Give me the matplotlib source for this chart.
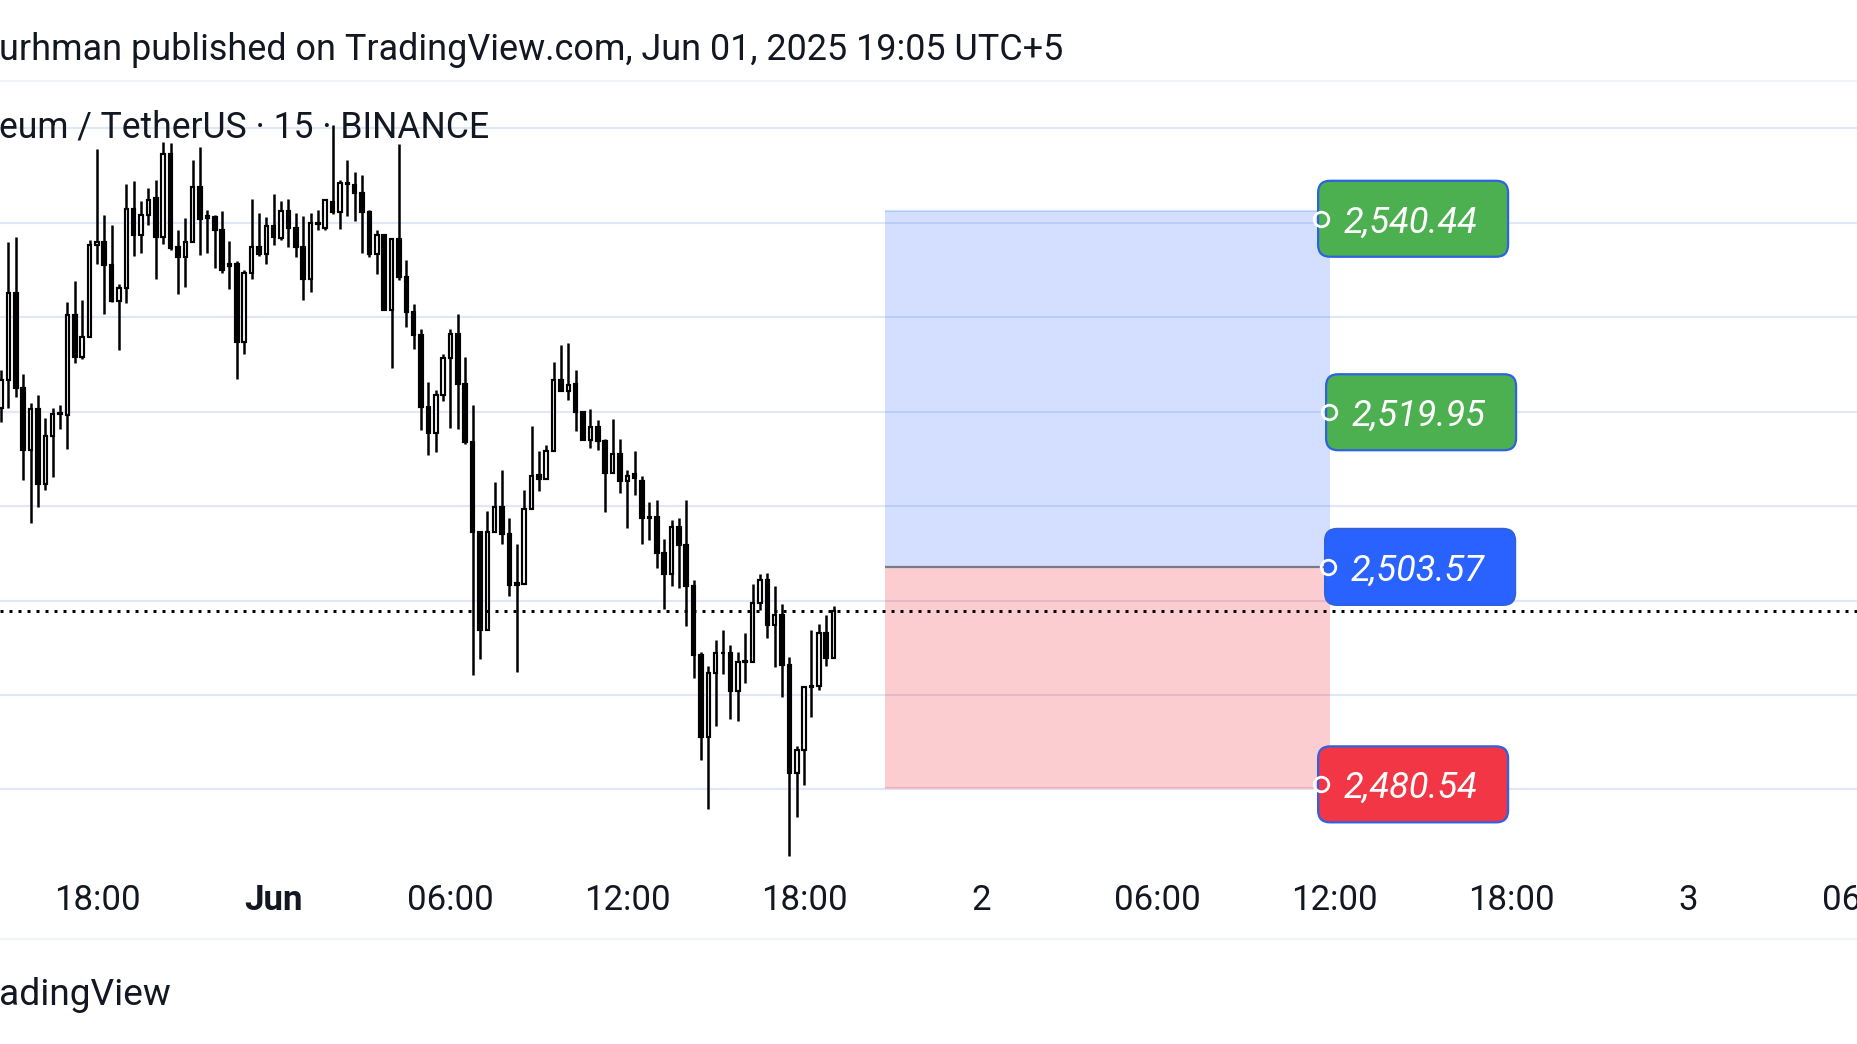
import numpy as np
import pandas as pd
import matplotlib
matplotlib.use("Agg")
import matplotlib.pyplot as plt
import matplotlib.transforms as mtransforms
from matplotlib.patches import FancyBboxPatch
from matplotlib.lines import Line2D

plt.rcParams['font.family'] = ['Roboto', 'DejaVu Sans']

W, H, DPI = 1858, 1044, 100
TEXT = '#131722'

# ETH/USDT 15m candles, May 31 14:45 -> Jun 01 19:00
times = pd.date_range("2025-05-31 14:45", "2025-06-01 19:00", freq="15min")
opens = [2520.4, 2523.4, 2532.6, 2522.5, 2515.9, 2520.3, 2512.3, 2517.4, 2519.8, 2519.7,
         2530.3, 2525.8, 2527.9, 2537.7, 2538.0, 2535.5, 2531.7, 2533.1, 2541.5, 2538.7,
         2540.8, 2542.6, 2538.5, 2547.3, 2537.4, 2536.4, 2538.0, 2543.8, 2540.7, 2540.6,
         2539.2, 2535.6, 2535.6, 2527.4, 2534.7, 2537.5, 2536.7, 2539.7, 2538.4, 2541.3,
         2539.5, 2537.4, 2534.1, 2539.9, 2539.5, 2542.2, 2541.2, 2544.2, 2544.0, 2543.2,
         2541.2, 2536.7, 2538.7, 2530.8, 2538.3, 2534.3, 2530.6, 2528.1, 2520.5, 2517.8,
         2521.8, 2525.7, 2528.2, 2522.9, 2516.8, 2507.3, 2496.9, 2507.3, 2509.9, 2507.1,
         2501.7, 2501.8, 2509.7, 2513.3, 2512.9, 2515.8, 2523.4, 2522.2, 2522.9, 2520.0,
         2517.0, 2518.4, 2516.9, 2513.5, 2515.5, 2512.7, 2513.4, 2512.7, 2508.7, 2508.9,
         2505.0, 2502.8, 2507.8, 2505.9, 2501.5, 2494.2, 2485.6, 2492.3, 2494.4, 2494.5,
         2490.4, 2493.5, 2493.5, 2499.7, 2502.2, 2497.4, 2498.5, 2493.2, 2481.7, 2484.2,
         2490.8, 2491.0, 2496.6, 2493.9]
highs = [2524.4, 2538.0, 2538.5, 2524.0, 2520.9, 2521.8, 2519.3, 2520.4, 2520.7, 2531.6,
         2533.8, 2531.8, 2538.2, 2547.8, 2540.8, 2539.8, 2533.5, 2544.1, 2544.4, 2542.3,
         2543.7, 2544.5, 2548.6, 2548.5, 2539.2, 2540.5, 2546.7, 2548.0, 2541.4, 2540.8,
         2541.3, 2538.1, 2536.0, 2535.0, 2542.5, 2541.1, 2540.6, 2543.1, 2542.3, 2542.5,
         2541.0, 2540.7, 2541.0, 2541.4, 2542.5, 2550.4, 2544.5, 2546.7, 2545.4, 2545.1,
         2541.4, 2539.2, 2538.8, 2538.4, 2548.4, 2536.1, 2531.4, 2528.8, 2523.2, 2522.3,
         2526.1, 2528.8, 2530.4, 2525.8, 2520.7, 2507.3, 2509.5, 2512.6, 2513.8, 2508.7,
         2506.0, 2511.7, 2518.5, 2515.8, 2516.5, 2525.3, 2527.1, 2527.3, 2524.4, 2520.0,
         2520.3, 2519.1, 2517.1, 2519.2, 2517.1, 2513.8, 2515.8, 2513.2, 2510.4, 2510.7,
         2506.5, 2508.5, 2508.7, 2510.7, 2502.2, 2494.6, 2493.1, 2495.8, 2496.9, 2495.3,
         2494.6, 2496.6, 2501.8, 2502.8, 2502.9, 2501.5, 2499.6, 2494.0, 2484.6, 2490.9,
         2496.9, 2497.5, 2498.5, 2499.4]
lows = [2518.9, 2520.4, 2521.6, 2512.8, 2508.2, 2509.9, 2511.7, 2513.1, 2518.2, 2516.1,
        2525.2, 2525.6, 2527.9, 2535.6, 2530.4, 2531.6, 2526.5, 2531.5, 2536.5, 2536.8,
        2539.8, 2534.1, 2537.8, 2537.1, 2532.5, 2533.2, 2538.0, 2536.6, 2536.8, 2535.2,
        2534.7, 2533.0, 2523.5, 2526.1, 2534.1, 2536.5, 2535.6, 2537.7, 2538.2, 2537.5,
        2536.4, 2531.8, 2532.7, 2539.3, 2539.2, 2540.9, 2539.4, 2540.7, 2540.2, 2536.8,
        2536.4, 2534.6, 2530.8, 2524.6, 2534.0, 2529.0, 2526.7, 2518.1, 2515.4, 2515.7,
        2521.1, 2518.3, 2518.2, 2516.6, 2492.1, 2493.8, 2496.9, 2507.3, 2506.0, 2500.5,
        2492.4, 2501.8, 2509.7, 2511.6, 2512.9, 2515.8, 2522.2, 2521.2, 2518.0, 2517.0,
        2516.2, 2515.9, 2509.4, 2513.5, 2511.4, 2507.7, 2511.2, 2506.0, 2506.4, 2503.5,
        2499.1, 2501.6, 2501.3, 2497.3, 2491.8, 2483.1, 2477.9, 2486.7, 2492.2, 2487.5,
        2487.3, 2491.3, 2493.5, 2499.0, 2496.0, 2493.0, 2489.8, 2473.0, 2477.1, 2480.5,
        2487.7, 2490.5, 2493.1, 2493.9]
closes = [2523.4, 2532.6, 2522.5, 2515.9, 2520.3, 2512.3, 2517.4, 2519.8, 2519.9, 2530.3,
          2525.8, 2527.9, 2537.7, 2538.0, 2535.5, 2531.7, 2533.1, 2541.5, 2538.7, 2540.8,
          2542.4, 2538.5, 2547.3, 2537.3, 2536.4, 2538.0, 2543.8, 2540.4, 2540.5, 2539.2,
          2535.0, 2535.4, 2527.4, 2534.7, 2537.5, 2536.7, 2539.7, 2538.5, 2541.3, 2539.5,
          2537.4, 2534.1, 2540.0, 2540.0, 2542.4, 2541.2, 2544.2, 2544.1, 2543.2, 2541.2,
          2536.7, 2538.7, 2530.8, 2538.3, 2534.3, 2530.6, 2528.1, 2520.5, 2517.8, 2521.8,
          2525.7, 2528.2, 2522.9, 2516.8, 2507.3, 2496.9, 2507.3, 2509.9, 2507.1, 2501.7,
          2501.9, 2509.7, 2513.2, 2512.9, 2515.8, 2523.4, 2522.2, 2522.8, 2520.0, 2517.0,
          2518.4, 2516.9, 2513.5, 2515.5, 2512.7, 2513.2, 2513.0, 2508.7, 2508.9, 2505.0,
          2502.8, 2507.8, 2505.9, 2501.5, 2494.2, 2485.6, 2492.3, 2494.4, 2494.5, 2490.4,
          2493.5, 2493.6, 2499.7, 2502.2, 2497.4, 2498.5, 2493.2, 2481.7, 2484.2, 2490.8,
          2491.0, 2496.6, 2493.9, 2498.9]

tick_times = pd.date_range("2025-05-31 18:00", periods=11, freq="6h")
tick_labels = ["18:00", "Jun", "06:00", "12:00", "18:00", "2",
               "06:00", "12:00", "18:00", "3", "06:00"]

# long position tool
zone_start = pd.Timestamp("2025-06-01 20:45")
zone_end = pd.Timestamp("2025-06-02 11:51")
zone_top = 2541.25
zone_bottom = 2480.2
entry = 2503.57
label_prices = [2540.44, 2519.95, 2503.57, 2480.54]
label_colors = ['#4caf50', '#4caf50', '#2962ff', '#f23645']

header = "urhman published on TradingView.com, Jun 01, 2025 19:05 UTC+5"
legend = "eum / TetherUS \u00b7 15 \u00b7 BINANCE"
footer = "adingView"

day0 = pd.Timestamp("2025-06-01")


def hours(t):
    return (pd.DatetimeIndex(t) - day0) / pd.Timedelta(hours=1)


fig = plt.figure(figsize=(W / DPI, H / DPI), dpi=DPI)
ax = fig.add_axes([0, 1 - 870 / H, 1, (870 - 81) / H])
ax.set_xlim(-9.288, 53.765)
ax.set_ylim(2471.47, 2555.03)
for s in ax.spines.values():
    s.set_visible(False)
ax.set_xticks([])
ax.set_yticks(np.arange(2480, 2551, 10))
ax.tick_params(axis='y', length=0, labelleft=False)
ax.grid(axis='y', color='#e0e7f7', lw=1.5, zorder=0)

# candles
x = np.asarray(hours(times))
o = np.array(opens)
c = np.array(closes)
up = c >= o
ax.vlines(x, lows, highs, color='black', lw=1.8, zorder=3)
ax.bar(x, np.abs(c - o), bottom=np.minimum(o, c), width=0.12,
       color=np.where(up, 'white', 'black'), edgecolor='black', lw=1.55, zorder=4)

# position zones
zx = np.asarray(hours([zone_start, zone_end]))
ax.fill_between(zx, entry, zone_top, color='#2962ff', alpha=0.2, lw=0, zorder=2)
ax.fill_between(zx, zone_bottom, entry, color='#f23645', alpha=0.25, lw=0, zorder=2)
ax.hlines(zone_top, zx[0], zx[1], color='#2962ff', alpha=0.2, lw=1.5, zorder=2)
ax.hlines(zone_bottom, zx[0], zx[1], color='#f23645', alpha=0.2, lw=1.5, zorder=2)
ax.hlines(entry, zx[0], zx[1], color='#787b86', lw=1.6, zorder=2)

# last price line
ax.axhline(closes[-1], color='black', lw=2.16, ls=(0, (1, 2)),
           dash_capstyle='butt', zorder=5)

# price labels (offsets in pixels from the zone's right edge)
label_dx = [-12, -4, -5, -12]
for p, col, dx in zip(label_prices, label_colors, label_dx):
    tr = mtransforms.ScaledTranslation(zx[1], p, ax.transData)
    box = FancyBboxPatch((dx, -38), 190, 76, boxstyle="round,pad=0,rounding_size=12",
                         fc=col, ec='#2f62e0', lw=1.6, transform=tr, zorder=8)
    fig.add_artist(box)
    fig.add_artist(Line2D([dx + 3], [0], marker='o', ms=10.5, mfc='none', mec='white',
                          mew=2.0, transform=tr, zorder=9))
    fig.text(dx + 92, -13.5, f"{p:,.2f}", transform=tr, color='white', style='italic',
             fontsize=26, ha='center', va='baseline', zorder=10)

# time axis
tr_x = mtransforms.blended_transform_factory(ax.transData, fig.transFigure)
for t, lab in zip(hours(tick_times), tick_labels):
    ax.text(t, 1 - 910 / H, lab, transform=tr_x, ha='center', va='baseline',
            fontsize=25, color=TEXT, fontweight='bold' if lab == "Jun" else 'normal',
            clip_on=False)

# header / legend / footer
fig.text(-1 / W, 1 - 60 / H, header, fontsize=25.9, color=TEXT, va='baseline')
fig.text(-1 / W, 1 - 138 / H, legend, fontsize=25.6, color=TEXT, va='baseline', zorder=6)
fig.text(-1 / W, 1 - 1005 / H, footer, fontsize=26.7, color=TEXT, va='baseline')
for yy in (81, 939):
    fig.add_artist(Line2D([0, 1], [1 - yy / H] * 2, transform=fig.transFigure,
                          color='#f0f3fa', lw=1.5))

fig.savefig("out.png", dpi=DPI, facecolor='white')
